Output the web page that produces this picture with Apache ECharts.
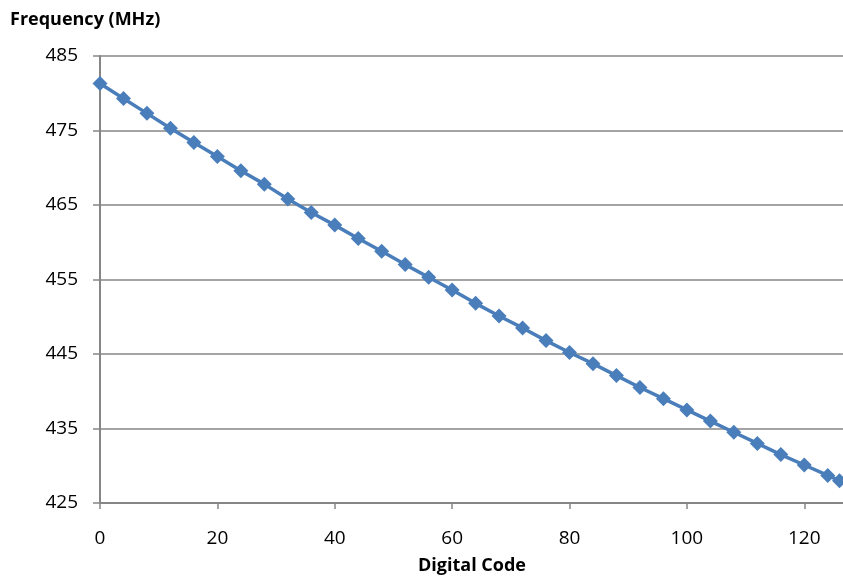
<!DOCTYPE html>
<html>
<head>
<meta charset="utf-8">
<script src="https://cdn.jsdelivr.net/npm/echarts@6/dist/echarts.min.js"></script>
<style>html,body{margin:0;padding:0;background:#fff}#c{width:843px;height:579px}</style>
</head>
<body>
<div id="c"></div>
<script>
const codes = [0,4,8,12,16,20,24,28,32,36,40,44,48,52,56,60,64,68,72,76,80,84,88,92,96,100,104,108,112,116,120,124,126];
const freqs = [481.3,479.3,477.3,475.3,473.4,471.5,469.6,467.8,465.8,464.0,462.3,460.5,458.8,457.0,455.3,453.6,451.8,450.1,448.5,446.8,445.2,443.7,442.1,440.5,439.0,437.5,436.0,434.5,433.0,431.5,430.1,428.7,428.0];
const yTitle = 'Frequency (MHz)';
const xTitle = 'Digital Code';

const chart = echarts.init(document.getElementById('c'), null, {renderer:'canvas'});
const font = 'Open Sans';
chart.setOption({
  animation:false,
  backgroundColor:'#fff',
  grid:{left:100,right:0,top:56,bottom:76,containLabel:false},
  graphic:[
    {type:'text',x:10,y:11,style:{text:yTitle,font:'bold 18px "Open Sans"',fill:'#000'}},
    {type:'text',x:472,y:557,style:{text:xTitle,font:'bold 18px "Open Sans"',fill:'#000',textAlign:'center'}}
  ],
  xAxis:{
    type:'value',min:0,max:126.6,interval:20,
    axisLine:{lineStyle:{color:'#868686',width:2}},
    axisTick:{show:true,length:6,lineStyle:{color:'#868686',width:1.5}},
    axisLabel:{color:'#000',fontSize:19,fontFamily:font,margin:26,showMaxLabel:false},
    splitLine:{show:false}
  },
  yAxis:{
    type:'value',min:425,max:485,interval:10,
    axisLine:{show:true,lineStyle:{color:'#868686',width:2}},
    axisTick:{show:true,length:7,lineStyle:{color:'#868686',width:1.5}},
    axisLabel:{color:'#000',fontSize:19,fontFamily:font,margin:22},
    splitLine:{show:true,lineStyle:{color:'#868686',width:1.5}}
  },
  series:[{
    type:'line',
    data:codes.map((c,i)=>[c,freqs[i]]),
    symbol:'diamond',symbolSize:15,
    lineStyle:{color:'#4a7ebb',width:3.5},
    itemStyle:{color:'#4a7ebb'},
    clip:false
  }]
});
</script>
</body>
</html>
